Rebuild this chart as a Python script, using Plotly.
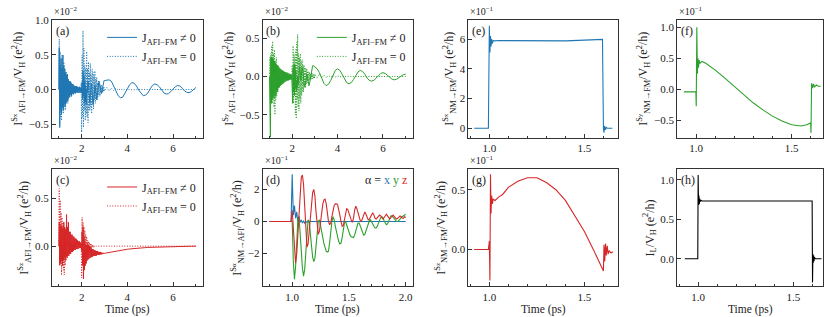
import numpy as np
import plotly.graph_objects as go

# ---------------- data ----------------
t_dense = np.round(np.arange(1.0, 3.0001, 0.02), 2)   # 101 samples
t_tail = np.round(np.arange(3.1, 7.0001, 0.1), 1)     # 40 samples
t_abc = np.concatenate([t_dense, t_tail])

a_on_dense = [
    0.0, 0.6, -0.55, 0.35, -0.3, 0.45, -0.35, 0.3, -0.25, 0.5,
    -0.3, 0.35, -0.2, 0.3, -0.25, 0.25, -0.2, 0.2, -0.18, 0.22,
    -0.15, 0.15, -0.12, 0.12, -0.1, 0.12, -0.08, 0.1, -0.1, 0.08,
    -0.06, 0.08, -0.07, 0.06, -0.05, 0.05, -0.06, 0.05, -0.04, 0.05,
    -0.05, 0.04, -0.04, 0.03, -0.05, 0.04, -0.04, 0.03, -0.03, 0.02,
    -0.05, 0.1, -0.15, 0.27, -0.1, 0.2, -0.2, 0.12, -0.18, 0.05,
    -0.22, 0.0, -0.05, 0.05, 0.12, 0.08, -0.05, -0.15, -0.2, -0.12,
    0.0, 0.08, 0.05, -0.05, -0.15, -0.22, -0.18, -0.08, 0.02, 0.06,
    0.03, -0.04, -0.12, -0.15, -0.1, -0.02, 0.05, 0.1, 0.12, 0.1,
    0.05, -0.01, -0.05, -0.06, -0.04, 0.0, 0.05, 0.09, 0.12, 0.13,
    0.13]
a_on_tail = [
    0.13, 0.14, 0.12, 0.06, -0.02, -0.09, -0.12, -0.11, -0.06, 0.01,
    0.07, 0.10, 0.09, 0.05, -0.01, -0.06, -0.09, -0.08, -0.05, 0.01,
    0.06, 0.08, 0.07, 0.04, -0.01, -0.05, -0.065, -0.06, -0.03, 0.01,
    0.04, 0.06, 0.05, 0.02, -0.02, -0.04, -0.045, -0.03, 0.0, 0.03]
a_off_dense = [
    0.0, 0.73, -0.5, 0.55, -0.4, 0.3, -0.45, 0.5, -0.3, 0.25,
    -0.35, 0.4, -0.25, 0.3, -0.3, 0.2, -0.2, 0.25, -0.15, 0.15,
    -0.2, 0.12, -0.1, 0.1, -0.12, 0.08, -0.06, 0.06, -0.08, 0.05,
    -0.04, 0.04, -0.05, 0.03, -0.03, 0.03, -0.03, 0.02, -0.02, 0.02,
    -0.02, 0.02, -0.01, 0.01, -0.01, 0.01, -0.01, 0.0, -0.05, 0.1,
    -0.62, 0.5, -0.4, 0.85, -0.55, 0.6, -0.3, 0.35, -0.45, 0.3,
    -0.35, 0.55, -0.4, 0.3, -0.48, 0.4, -0.3, 0.25, -0.3, 0.38,
    -0.25, 0.2, -0.35, 0.3, -0.2, 0.25, -0.28, 0.2, -0.15, 0.27,
    -0.2, 0.15, -0.12, 0.18, -0.15, 0.1, -0.1, 0.12, -0.08, 0.08,
    -0.1, 0.06, -0.05, 0.07, -0.05, 0.04, -0.04, 0.04, -0.03, 0.03,
    -0.02]
a_off_tail = [
    0.03, -0.02, 0.02, -0.015, 0.015, -0.01, 0.01, -0.008, 0.006, -0.005,
    0.004, -0.003, 0.002, -0.002, 0.001, 0.0, 0.0, 0.0, 0.0, 0.0,
    0.0, 0.0, 0.0, 0.0, 0.0, 0.0, 0.0, 0.0, 0.0, 0.0,
    0.0, 0.0, 0.0, 0.0, 0.0, 0.0, 0.0, 0.0, 0.0, 0.0]

b_on_dense = [
    0.0, -0.5, -0.79, 0.25, -0.35, 0.25, -0.3, 0.24, -0.25, 0.22,
    -0.28, 0.2, -0.22, 0.18, -0.25, 0.16, -0.18, 0.15, -0.2, 0.14,
    -0.15, 0.12, -0.14, 0.1, -0.12, 0.1, -0.11, 0.08, -0.1, 0.08,
    -0.09, 0.07, -0.08, 0.06, -0.07, 0.06, -0.06, 0.05, -0.06, 0.05,
    -0.05, 0.04, -0.05, 0.04, -0.04, 0.03, -0.04, 0.03, -0.03, 0.02,
    -0.1, -0.35, 0.1, -0.2, 0.16, -0.25, 0.15, -0.15, 0.08, -0.2,
    -0.05, -0.15, 0.0, -0.1, 0.05, 0.1, 0.12, 0.08, 0.02, -0.05,
    0.02, 0.1, 0.12, 0.1, 0.03, -0.05, -0.1, -0.13, -0.14, -0.12,
    -0.07, -0.01, 0.03, 0.02, -0.03, -0.08, -0.11, -0.12, -0.1, -0.06,
    -0.01, 0.04, 0.08, 0.11, 0.13, 0.14, 0.145, 0.14, 0.14, 0.13,
    0.12]
b_on_tail = [
    0.1, 0.05, -0.02, -0.09, -0.12, -0.1, -0.05, 0.02, 0.08, 0.1,
    0.08, 0.03, -0.03, -0.08, -0.095, -0.08, -0.04, 0.02, 0.06, 0.08,
    0.065, 0.03, -0.02, -0.05, -0.06, -0.05, -0.02, 0.01, 0.04, 0.05,
    0.04, 0.015, -0.015, -0.035, -0.043, -0.035, -0.015, 0.01, 0.025, 0.03]
b_off_dense = [
    0.0, 0.25, -0.3, 0.3, -0.2, 0.4, -0.35, 0.46, -0.3, 0.3,
    -0.4, 0.35, -0.5, 0.2, -0.3, 0.25, -0.25, 0.15, -0.2, 0.12,
    -0.15, 0.1, -0.12, 0.08, -0.1, 0.06, -0.06, 0.05, -0.05, 0.04,
    -0.04, 0.03, -0.03, 0.02, -0.02, 0.02, -0.02, 0.01, -0.01, 0.01,
    -0.01, 0.01, -0.01, 0.0, 0.0, 0.0, 0.0, 0.0, 0.02, -0.05,
    0.15, -0.3, 0.4, -0.35, 0.3, -0.2, 0.25, -0.5, 0.35, -0.55,
    0.45, -0.3, 0.55, -0.4, 0.3, -0.45, 0.25, -0.3, 0.3, -0.35,
    0.2, -0.25, 0.22, -0.2, 0.15, -0.2, 0.15, -0.12, 0.12, -0.15,
    0.1, -0.1, 0.1, -0.08, 0.07, -0.08, 0.06, -0.05, 0.06, -0.05,
    0.04, -0.04, 0.05, -0.03, 0.04, -0.03, 0.03, -0.03, 0.03, -0.02,
    0.03]
b_off_tail = [
    -0.02, 0.03, -0.02, 0.02, -0.015, 0.015, -0.01, 0.012, -0.008, 0.008,
    -0.005, 0.005, -0.003, 0.003, 0.0, 0.0, 0.0, 0.0, 0.0, 0.0,
    0.0, 0.0, 0.0, 0.0, 0.0, 0.0, 0.0, 0.0, 0.0, 0.0,
    0.0, 0.0, 0.0, 0.0, 0.0, 0.0, 0.0, 0.0, 0.0, 0.0]

c_on_dense = [
    0.0, 0.25, -0.2, 0.2, -0.18, 0.22, -0.15, 0.2, -0.2, 0.18,
    -0.15, 0.25, -0.12, 0.2, -0.15, 0.18, -0.1, 0.33, -0.12, 0.2,
    -0.1, 0.25, -0.1, 0.15, -0.08, 0.15, -0.08, 0.12, -0.06, 0.12,
    -0.06, 0.1, -0.05, 0.1, -0.04, 0.08, -0.04, 0.08, -0.03, 0.07,
    -0.03, 0.06, -0.03, 0.05, -0.02, 0.05, -0.02, 0.04, -0.02, 0.03,
    -0.05, 0.15, -0.2, 0.2, -0.34, 0.1, -0.25, 0.05, -0.2, 0.02,
    -0.18, 0.01, -0.15, 0.02, -0.14, 0.01, -0.13, 0.0, -0.12, -0.01,
    -0.12, -0.02, -0.11, -0.03, -0.11, -0.03, -0.1, -0.04, -0.1, -0.04,
    -0.1, -0.05, -0.1, -0.05, -0.09, -0.05, -0.09, -0.06, -0.09, -0.06,
    -0.09, -0.06, -0.085, -0.065, -0.085, -0.07, -0.08, -0.07, -0.08, -0.07,
    -0.075]
c_on_tail = [
    -0.07, -0.065, -0.06, -0.055, -0.05, -0.046, -0.042, -0.038, -0.035, -0.032,
    -0.029, -0.026, -0.024, -0.022, -0.02, -0.018, -0.016, -0.015, -0.013, -0.012,
    -0.011, -0.01, -0.009, -0.008, -0.007, -0.006, -0.006, -0.005, -0.004, -0.004,
    -0.003, -0.003, -0.002, -0.002, -0.002, -0.001, -0.001, -0.001, 0.0, 0.0]
c_off_dense = [
    0.0, 0.6, -0.2, 0.48, -0.15, 0.35, -0.3, 0.3, -0.2, 0.25,
    -0.25, 0.2, -0.3, 0.15, -0.2, 0.15, -0.15, 0.1, -0.12, 0.08,
    -0.1, 0.06, -0.06, 0.05, -0.05, 0.04, -0.03, 0.03, -0.03, 0.02,
    -0.02, 0.02, -0.01, 0.01, -0.01, 0.01, 0.0, 0.0, 0.0, 0.0,
    0.0, 0.0, 0.0, 0.0, 0.0, 0.0, 0.0, 0.0, 0.0, 0.02,
    -0.33, 0.3, -0.2, 0.25, -0.25, 0.2, -0.15, 0.16, -0.2, 0.12,
    -0.1, 0.1, -0.12, 0.06, -0.06, 0.05, -0.05, 0.04, -0.03, 0.03,
    -0.02, 0.02, -0.02, 0.015, -0.01, 0.01, -0.01, 0.005, -0.005, 0.005,
    0.0, 0.0, 0.0, 0.0, 0.0, 0.0, 0.0, 0.0, 0.0, 0.0,
    0.0, 0.0, 0.0, 0.0, 0.0, 0.0, 0.0, 0.0, 0.0, 0.0,
    0.0]
c_off_tail = [
    0.0, 0.0, 0.0, 0.0, 0.0, 0.0, 0.0, 0.0, 0.0, 0.0,
    0.0, 0.0, 0.0, 0.0, 0.0, 0.0, 0.0, 0.0, 0.0, 0.0,
    0.0, 0.0, 0.0, 0.0, 0.0, 0.0, 0.0, 0.0, 0.0, 0.0,
    0.0, 0.0, 0.0, 0.0, 0.0, 0.0, 0.0, 0.0, 0.0, 0.0]

# panel (d): time 0.80, 0.99, then 1.00 .. 2.00 step 0.01
t_d = np.concatenate([[0.8], np.round(np.arange(0.99, 2.0001, 0.01), 2)])
d_x = [0.0, 0.0,
       2.95, 0.4, 1.0, 0.2, 0.6, 0.0, 0.3, -0.05, 0.1, -0.1,
       0.05, -0.1, 0.0, -0.05, 0.02, -0.02, 0.0, 0.0, 0.0, 0.0,
       0.0, 0.0, 0.0, 0.0, 0.0, 0.0, 0.0, 0.0, 0.0, 0.0,
       0.0, 0.0, 0.0, 0.0, 0.0, 0.0, 0.0, 0.0, 0.0, 0.0,
       0.0, 0.0, 0.0, 0.0, 0.0, 0.0, 0.0, 0.0, 0.0, 0.0,
       0.0, 0.0, 0.0, 0.0, 0.0, 0.0, 0.0, 0.0, 0.0, 0.0,
       0.0, 0.0, 0.0, 0.0, 0.0, 0.0, 0.0, 0.0, 0.0, 0.0,
       0.0, 0.0, 0.0, 0.0, 0.0, 0.0, 0.0, 0.0, 0.0, 0.0,
       0.0, 0.0, 0.0, 0.0, 0.0, 0.0, 0.0, 0.0, 0.0, 0.0,
       0.0, 0.0, 0.0, 0.0, 0.0, 0.0, 0.0, 0.0, 0.0, 0.0,
       0.0]
d_y = [0.0, 0.0,
       0.0, -2.5, -3.6, -2.8, -1.2, 0.1, 0.3, -0.5, -1.8, -2.9,
       -3.4, -3.0, -1.8, -0.5, 0.1, 0.0, -0.6, -1.5, -2.2, -2.5,
       -2.3, -1.5, -0.6, 0.0, 0.1, -0.2, -0.6, -1.0, -1.4, -1.7,
       -1.85, -1.9, -1.85, -1.3, -0.6, 0.0, 0.3, 0.1, -0.3, -0.7,
       -1.0, -1.25, -1.4, -1.35, -1.0, -0.5, -0.1, 0.0, -0.2, -0.45,
       -0.7, -0.85, -0.95, -1.0, -1.0, -0.85, -0.55, -0.25, -0.1, -0.1,
       -0.3, -0.55, -0.75, -0.85, -0.8, -0.6, -0.35, -0.1, 0.05, 0.1,
       0.0, -0.15, -0.3, -0.4, -0.4, -0.3, -0.1, 0.1, 0.25, 0.3,
       0.25, 0.05, -0.1, -0.2, -0.15, 0.05, 0.25, 0.35, 0.35, 0.25,
       0.15, 0.05, 0.0, 0.0, 0.05, 0.15, 0.25, 0.3, 0.35, 0.4,
       0.45]
d_z = [0.0, 0.0,
       0.7, -0.5, -2.0, -2.6, -2.0, -0.6, 0.8, 2.0, 2.75, 2.9,
       2.3, 1.0, -0.6, -1.6, -1.4, -0.5, 0.5, 1.3, 1.8, 2.0,
       1.6, 0.6, -0.3, -0.8, -0.6, 0.0, 0.7, 1.1, 1.35, 1.4,
       1.1, 0.5, 0.0, -0.2, -0.1, 0.3, 0.7, 1.0, 1.1, 1.1,
       1.05, 0.8, 0.4, 0.0, -0.3, -0.25, 0.2, 0.6, 0.8, 0.75,
       0.5, 0.3, 0.1, -0.05, 0.2, 0.7, 0.95, 0.8, 0.5, 0.2,
       0.05, 0.0, 0.2, 0.5, 0.6, 0.45, 0.2, 0.1, 0.15, 0.3,
       0.5, 0.55, 0.4, 0.2, 0.15, 0.25, 0.35, 0.4, 0.35, 0.2,
       0.15, 0.25, 0.4, 0.45, 0.35, 0.2, 0.15, 0.25, 0.35, 0.4,
       0.3, 0.2, 0.15, 0.2, 0.3, 0.35, 0.3, 0.2, 0.2, 0.3,
       0.25]

# panel (e)
t_e = [0.92, 0.995, 1.0, 1.003, 1.006, 1.009, 1.012, 1.016, 1.02, 1.03, 1.05, 1.1,
       1.2, 1.3, 1.4, 1.5, 1.595, 1.6, 1.603, 1.606, 1.61, 1.615, 1.62, 1.63, 1.647]
e_x = [0.0, 0.0, 6.9, 5.1, 6.2, 5.5, 6.0, 5.7, 5.9, 5.88, 5.9, 5.89,
       5.87, 5.86, 5.88, 5.93, 5.98, 0.0, -0.3, 0.15, -0.1, 0.05, 0.0, 0.0, 0.0]
# panel (f)
t_f = [0.935, 0.998, 1.0, 1.003, 1.006, 1.009, 1.012, 1.015, 1.02, 1.03, 1.05,
       1.1, 1.15, 1.2, 1.25, 1.3, 1.35, 1.4, 1.45, 1.5, 1.55, 1.58, 1.6,
       1.602, 1.605, 1.61, 1.615, 1.62, 1.63, 1.64, 1.653]
f_y = [-0.04, -0.04, -0.27, 1.0, 0.25, 0.5, 0.35, 0.47, 0.42, 0.45, 0.42,
       0.31, 0.18, 0.045, -0.09, -0.22, -0.33, -0.43, -0.51, -0.57, -0.59, -0.57, -0.54,
       -0.7, 0.1, 0.02, 0.09, 0.04, 0.07, 0.05, 0.05]
# panel (g)
t_g = [0.92, 0.995, 1.0, 1.003, 1.006, 1.009, 1.012, 1.016, 1.02, 1.03, 1.05, 1.07,
       1.1, 1.15, 1.2, 1.25, 1.3, 1.35, 1.4, 1.45, 1.5, 1.55, 1.6,
       1.603, 1.607, 1.611, 1.615, 1.62, 1.625, 1.63, 1.64, 1.65]
g_z = [0.0, 0.0, 0.07, -0.26, 0.63, 0.3, 0.45, 0.38, 0.42, 0.41, 0.44, 0.46,
       0.52, 0.57, 0.6, 0.6, 0.56, 0.5, 0.41, 0.28, 0.15, -0.01, -0.18,
       0.04, -0.1, 0.05, -0.05, 0.03, -0.04, -0.01, -0.03, -0.02]
# panel (h)
t_h = [0.93, 0.998, 1.0, 1.002, 1.004, 1.006, 1.008, 1.01, 1.015, 1.02, 1.05, 1.1,
       1.2, 1.3, 1.4, 1.5, 1.598, 1.6, 1.602, 1.604, 1.606, 1.608, 1.61, 1.615,
       1.62, 1.63, 1.647]
h_L = [0.0, 0.0, 1.06, 0.68, 0.8, 0.69, 0.76, 0.72, 0.74, 0.73, 0.73, 0.73,
       0.73, 0.73, 0.73, 0.73, 0.73, -0.3, 0.06, -0.05, 0.04, -0.03, 0.02, 0.0,
       0.0, 0.0, 0.0]

# ---------------- style / layout ----------------
W, H = 830, 317
FONT = "Liberation Serif"
FS = 12
TFS = 11
AX = "#333333"
TXT = "#222222"
BLUE, GREEN, RED, BLACK = "#1f77b4", "#2ca02c", "#d62728", "#000000"
DOT = "1px,1.6px"
cols = [(52, 203), (263, 413), (469, 619), (678, 824)]
rows = [(15, 135), (167, 286)]


def xd(c):
    return [cols[c][0] / W, cols[c][1] / W]


def yd(r):
    return [1 - rows[r][1] / H, 1 - rows[r][0] / H]


fig = go.Figure()

LEG_ON = "J<sub>AFI−FM</sub> ≠ 0"
LEG_OFF = "J<sub>AFI−FM</sub> = 0"

t_abc_l = list(t_abc)
series_abc = [
    ("x", "y", "legend", BLUE, a_on_dense + a_on_tail, a_off_dense + a_off_tail),
    ("x2", "y2", "legend2", GREEN, b_on_dense + b_on_tail, b_off_dense + b_off_tail),
    ("x5", "y5", "legend3", RED, c_on_dense + c_on_tail, c_off_dense + c_off_tail),
]
for xa, ya, lg, col, on, off in series_abc:
    fig.add_trace(go.Scatter(x=t_abc_l, y=on, xaxis=xa, yaxis=ya, mode="lines",
                             line=dict(color=col, width=1), name=LEG_ON, legend=lg))
    fig.add_trace(go.Scatter(x=t_abc_l, y=off, xaxis=xa, yaxis=ya, mode="lines",
                             line=dict(color=col, width=1, dash=DOT), name=LEG_OFF, legend=lg))

for yy, col in ((d_x, BLUE), (d_y, GREEN), (d_z, RED)):
    fig.add_trace(go.Scatter(x=list(t_d), y=yy, xaxis="x6", yaxis="y6", mode="lines",
                             line=dict(color=col, width=1.1), showlegend=False))
fig.add_trace(go.Scatter(x=t_e, y=e_x, xaxis="x3", yaxis="y3", mode="lines",
                         line=dict(color=BLUE, width=1.1), showlegend=False))
fig.add_trace(go.Scatter(x=t_f, y=f_y, xaxis="x4", yaxis="y4", mode="lines",
                         line=dict(color=GREEN, width=1.1), showlegend=False))
fig.add_trace(go.Scatter(x=t_g, y=g_z, xaxis="x7", yaxis="y7", mode="lines",
                         line=dict(color=RED, width=1.1), showlegend=False))
fig.add_trace(go.Scatter(x=t_h, y=h_L, xaxis="x8", yaxis="y8", mode="lines",
                         line=dict(color=BLACK, width=1.1), showlegend=False))


def xaxis(c, anchor, rng, tickvals, fmt, minor_dtick):
    return dict(domain=xd(c), anchor=anchor, range=rng, tickvals=tickvals, tickformat=fmt,
                showline=True, mirror=True, linecolor=AX, linewidth=1,
                ticks="inside", ticklen=4, tickwidth=1, tickcolor=AX,
                showgrid=False, zeroline=False,
                tickfont=dict(family=FONT, size=TFS, color=TXT),
                minor=dict(ticks="inside", ticklen=2, tickwidth=1, tickcolor=AX, dtick=minor_dtick,
                           tick0=0, showgrid=False))


def yaxis(r, anchor, rng, tickvals, fmt, title):
    return dict(domain=yd(r), anchor=anchor, range=rng, tickvals=tickvals, tickformat=fmt,
                showline=True, mirror=True, linecolor=AX, linewidth=1,
                ticks="inside", ticklen=4, tickwidth=1, tickcolor=AX,
                showgrid=False, zeroline=False,
                tickfont=dict(family=FONT, size=TFS, color=TXT),
                title=dict(text=title, font=dict(family=FONT, size=FS, color=TXT), standoff=3))


def ylab(comp, path):
    return ("I<sup>S<span style='font-size:7px'>" + comp + "</span></sup><sub>" + path + "</sub>"
            "/V<sub>H</sub> (e<sup>2</sup>/h)")


layout = dict(
    xaxis=xaxis(0, "y", [0.7, 7.3], [2, 4, 6], "d", 1),
    yaxis=yaxis(0, "x", [-0.7, 1.01], [-0.5, 0.0, 0.5, 1.0], ".1f", ylab("x", "AFI→FM")),
    xaxis2=xaxis(1, "y2", [0.7, 7.3], [2, 4, 6], "d", 1),
    yaxis2=yaxis(0, "x2", [-0.8, 0.74], [-0.5, 0.0, 0.5], ".1f", ylab("y", "AFI→FM")),
    xaxis3=xaxis(2, "y3", [0.89, 1.678], [1.0, 1.5], ".1f", 0.1),
    yaxis3=yaxis(0, "x3", [-0.65, 7.3], [0, 2, 4, 6], "d", ylab("x", "NM→FM")),
    xaxis4=xaxis(3, "y4", [0.9, 1.665], [1.0, 1.5], ".1f", 0.1),
    yaxis4=yaxis(0, "x4", [-0.78, 1.12], [-0.5, 0.0, 0.5, 1.0], ".1f", ylab("y", "NM→FM")),
    xaxis5=xaxis(0, "y5", [0.7, 7.3], [2, 4, 6], "d", 1),
    yaxis5=yaxis(1, "x5", [-0.42, 0.8], [0.0, 0.5], ".1f", ylab("z", "AFI→FM")),
    xaxis6=xaxis(1, "y6", [0.74, 2.06], [1.0, 1.5, 2.0], ".1f", 0.1),
    yaxis6=yaxis(1, "x6", [-4.05, 3.25], [-2, 0, 2], "d", ylab("α", "NM→AFI")),
    xaxis7=xaxis(2, "y7", [0.89, 1.678], [1.0, 1.5], ".1f", 0.1),
    yaxis7=yaxis(1, "x7", [-0.31, 0.67], [0.0, 0.5], ".1f", ylab("z", "NM→FM")),
    xaxis8=xaxis(3, "y8", [0.89, 1.655], [1.0, 1.5], ".1f", 0.1),
    yaxis8=yaxis(1, "x8", [-0.35, 1.13], [0.0, 0.5, 1.0], ".1f",
                 "I<sub>L</sub>/V<sub>H</sub> (e<sup>2</sup>/h)"),
)


def leg(c, r):
    return dict(x=xd(c)[1] - 0.002, y=yd(r)[1] - 0.01, xanchor="right", yanchor="top",
                bgcolor="rgba(0,0,0,0)", borderwidth=0, tracegroupgap=0,
                font=dict(family=FONT, size=FS, color=TXT), itemwidth=30)


layout["legend"] = leg(0, 0)
layout["legend2"] = leg(1, 0)
layout["legend3"] = leg(0, 1)

ann = []
labels = [("(a)", 0, 0), ("(b)", 1, 0), ("(e)", 2, 0), ("(f)", 3, 0),
          ("(c)", 0, 1), ("(d)", 1, 1), ("(g)", 2, 1), ("(h)", 3, 1)]
for txt, c, r in labels:
    ann.append(dict(text=txt, x=xd(c)[0] + 0.002, y=yd(r)[1] - 0.006, xref="paper", yref="paper",
                    xanchor="left", yanchor="top", showarrow=False,
                    font=dict(family=FONT, size=FS, color=TXT)))
exps = [("−2", 0, 0), ("−2", 1, 0), ("−1", 2, 0), ("−1", 3, 0),
        ("−2", 0, 1), ("−1", 1, 1), ("−1", 2, 1)]
for e, c, r in exps:
    ann.append(dict(text="×10<sup>" + e + "</sup>", x=xd(c)[0], y=yd(r)[1] + 0.004,
                    xref="paper", yref="paper",
                    xanchor="left", yanchor="bottom", showarrow=False,
                    font=dict(family=FONT, size=10, color=TXT)))
for c in range(4):
    ann.append(dict(text="Time (ps)", x=(xd(c)[0] + xd(c)[1]) / 2, y=1 - 309 / H,
                    xref="paper", yref="paper", xanchor="center", yanchor="middle",
                    showarrow=False, font=dict(family=FONT, size=11.5, color=TXT)))
ann.append(dict(text="α = <span style='color:%s'>x</span> <span style='color:%s'>y</span> "
                     "<span style='color:%s'>z</span>" % (BLUE, GREEN, RED),
                x=xd(1)[1] - 0.004, y=yd(1)[1] - 0.006, xref="paper", yref="paper",
                xanchor="right", yanchor="top", showarrow=False,
                font=dict(family=FONT, size=FS, color=TXT)))
layout["annotations"] = ann

fig.update_layout(**layout)
fig.update_layout(width=W, height=H, autosize=False, margin=dict(l=0, r=0, t=0, b=0),
                  paper_bgcolor="white", plot_bgcolor="white",
                  font=dict(family=FONT, size=FS, color=TXT))

fig.write_html("out.html",
               config={"displayModeBar": False, "staticPlot": True},
               post_script="document.body.style.margin='0';"
                           "document.body.style.overflow='hidden';")
